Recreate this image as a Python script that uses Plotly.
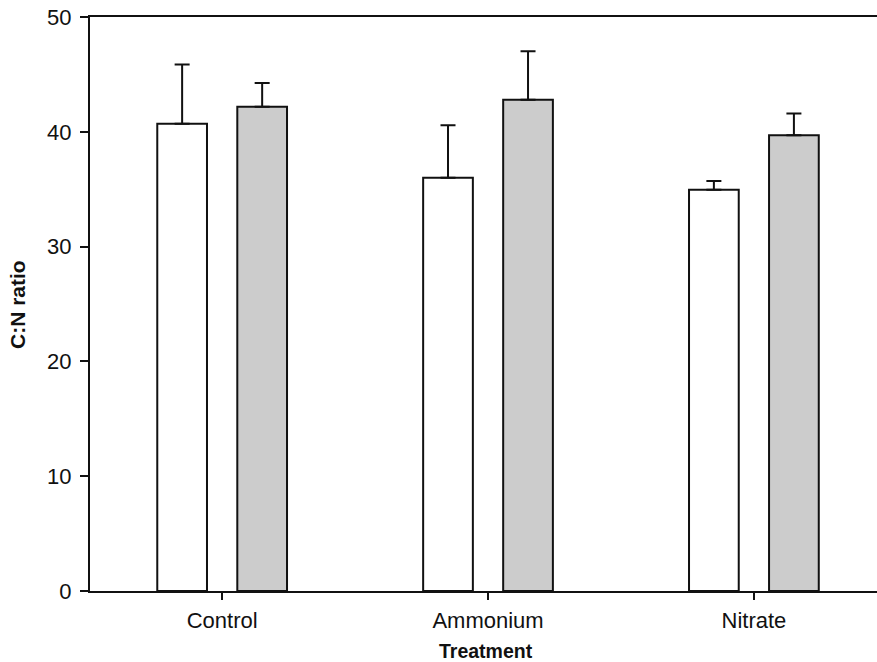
import plotly.graph_objects as go

categories = ["Control", "Ammonium", "Nitrate"]
white_values = [40.7, 36.0, 34.96]
white_errors = [5.17, 4.56, 0.75]
gray_values = [42.18, 42.79, 39.71]
gray_errors = [2.06, 4.23, 1.89]
y_ticks = [0, 10, 20, 30, 40, 50]

fig = go.Figure()
fig.add_trace(go.Bar(
    x=categories, y=white_values, offset=-0.244, width=0.187,
    marker=dict(color="white", line=dict(color="#111111", width=2)),
    error_y=dict(type="data", symmetric=False, array=white_errors,
                 arrayminus=[0] * 3, color="#111111", thickness=2, width=7.5),
    showlegend=False,
))
fig.add_trace(go.Bar(
    x=categories, y=gray_values, offset=0.057, width=0.187,
    marker=dict(color="#cccccc", line=dict(color="#111111", width=2)),
    error_y=dict(type="data", symmetric=False, array=gray_errors,
                 arrayminus=[0] * 3, color="#111111", thickness=2, width=7.5),
    showlegend=False,
))

font = "Liberation Sans, Arial, sans-serif"
W, H = 877, 662
l, r, t, b = 90, 0, 17, 71
pw, ph = W - l - r, H - t - b

fig.update_layout(
    width=W, height=H,
    margin=dict(l=l, r=r, t=t, b=b),
    paper_bgcolor="white", plot_bgcolor="white",
    font=dict(family=font, color="#111111"),
    xaxis=dict(
        type="category", range=[-0.497, 2.463],
        showline=True, linecolor="#111111", linewidth=2, mirror=True,
        ticks="outside", ticklen=7, tickwidth=2, tickcolor="#111111",
        tickfont=dict(size=22, family=font), showgrid=False, zeroline=False,
        ticklabelstandoff=2,
    ),
    yaxis=dict(
        range=[0, 50], tickvals=y_ticks,
        showline=True, linecolor="#111111", linewidth=2, mirror=False,
        ticks="outside", ticklen=8, tickwidth=2, tickcolor="#111111",
        tickfont=dict(size=22, family=font), showgrid=False, zeroline=False,
        ticklabelstandoff=4,
    ),
    annotations=[
        dict(text="<b>Treatment</b>", xref="paper", yref="paper",
             x=(486 - l) / pw, y=(H - b - 651) / ph,
             xanchor="center", yanchor="middle",
             showarrow=False, font=dict(size=19.5, family=font)),
        dict(text="<b>C:N ratio</b>", textangle=-90, xref="paper", yref="paper",
             x=(17 - l) / pw, y=(H - b - 305) / ph,
             xanchor="center", yanchor="middle",
             showarrow=False, font=dict(size=21, family=font)),
    ],
)

fig.write_html("out.html")
